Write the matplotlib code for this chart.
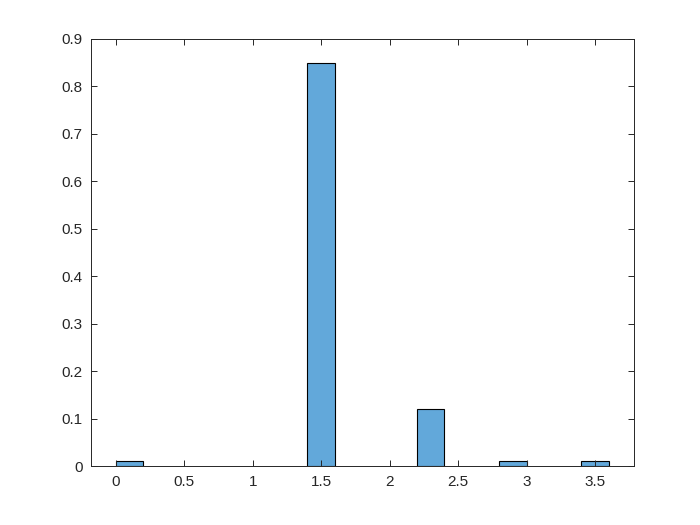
import matplotlib
matplotlib.use("Agg")
import matplotlib.pyplot as plt
import numpy as np

# histogram bins (left edge) and normalized counts
bin_left = [0.0, 1.4, 2.2, 2.8, 3.4]
probability = [0.01, 0.85, 0.12, 0.01, 0.01]
bin_width = 0.2

x_ticks = [0, 0.5, 1, 1.5, 2, 2.5, 3, 3.5]
x_labels = ["0", "0.5", "1", "1.5", "2", "2.5", "3", "3.5"]
y_ticks = np.arange(0, 0.91, 0.1)
y_labels = ["0", "0.1", "0.2", "0.3", "0.4", "0.5", "0.6", "0.7", "0.8", "0.9"]

plt.rcParams['font.family'] = ['Liberation Sans', 'DejaVu Sans']
ax_col = '#262626'

fig = plt.figure(figsize=(7, 5.25), dpi=100)
ax = fig.add_axes([0.13, 0.112, 0.775, 0.814])

ax.bar(bin_left, probability, width=bin_width, align='edge',
       color='#62a8da', edgecolor='black', linewidth=0.8)

ax.set_xlim(-0.18, 3.78)
ax.set_ylim(0, 0.9)
ax.set_xticks(x_ticks)
ax.set_xticklabels(x_labels)
ax.set_yticks(y_ticks)
ax.set_yticklabels(y_labels)

ax.tick_params(direction='in', top=True, right=True, length=4, width=0.7,
               colors=ax_col, labelsize=11, pad=6)
for s in ax.spines.values():
    s.set_color(ax_col)
    s.set_linewidth(0.7)

fig.savefig("out.png", dpi=100)
